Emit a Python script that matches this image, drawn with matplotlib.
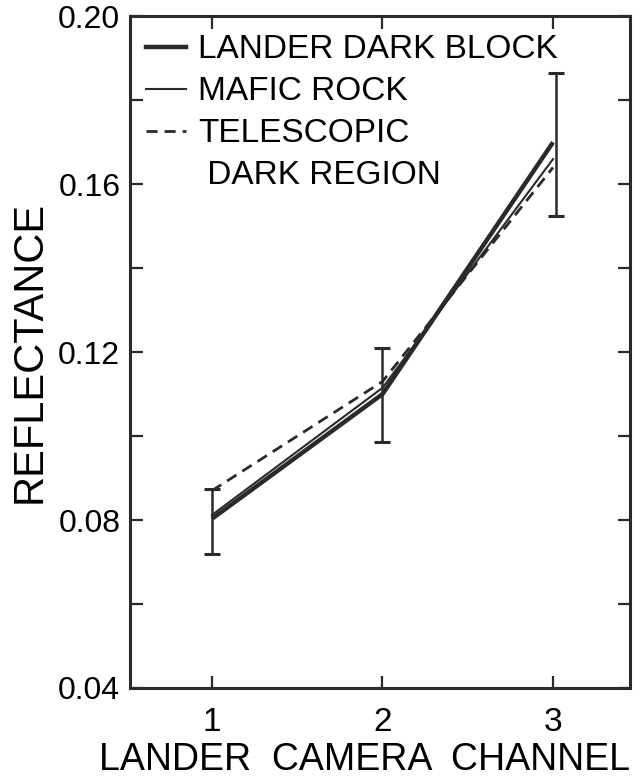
import matplotlib
matplotlib.use('Agg')
import matplotlib.pyplot as plt
from matplotlib.lines import Line2D

plt.rcParams['font.family'] = ['Liberation Sans', 'DejaVu Sans']

# 数据
channels = [1, 2, 3]
lander_dark_block = [0.0803, 0.1100, 0.1700]
mafic_rock = [0.0812, 0.1115, 0.1660]
telescopic_dark = [0.0870, 0.1130, 0.1640]

# 误差棒 (上下界)
err_x = [1.0, 2.0, 3.02]
err_low = [0.0720, 0.0985, 0.1525]
err_high = [0.0875, 0.1210, 0.1865]

fig = plt.figure(figsize=(6.42, 7.78), dpi=100)
ax = fig.add_axes([0.2025, 0.1157, 0.7785, 0.8633])

ax.plot(channels, lander_dark_block, color='#2a2a2a', lw=3.2, solid_capstyle='butt')
ax.plot(channels, mafic_rock, color='#2a2a2a', lw=1.5)
ax.plot(channels, telescopic_dark, color='#2a2a2a', lw=2.0, ls=(0, (4, 2.5)))

mid = [(a + b) / 2 for a, b in zip(err_low, err_high)]
half = [(b - a) / 2 for a, b in zip(err_low, err_high)]
ax.errorbar(err_x, mid, yerr=half, fmt='none', ecolor='#2a2a2a',
            elinewidth=1.8, capsize=6, capthick=2.2)

ax.set_xlim(0.52, 3.45)
ax.set_ylim(0.04, 0.20)
ax.set_xticks(channels)
ax.set_xticklabels(['1', '2', '3'])
ax.set_yticks([0.04, 0.08, 0.12, 0.16, 0.20])
ax.set_yticklabels(['0.04', '0.08', '0.12', '0.16', '0.20'])
ax.set_yticks([0.06, 0.10, 0.14, 0.18], minor=True)

ax.tick_params(axis='both', which='both', direction='in', top=True, right=True,
               width=1.6, color='#2a2a2a')
ax.tick_params(axis='both', which='major', length=9)
ax.tick_params(axis='both', which='minor', length=9)
ax.tick_params(axis='y', labelsize=23, pad=7)
ax.tick_params(axis='x', labelsize=24, pad=14)
for s in ax.spines.values():
    s.set_linewidth(2.2)
    s.set_color('#2a2a2a')

ax.set_xlabel('LANDER  CAMERA  CHANNEL', fontsize=27)
ax.xaxis.set_label_coords(0.47, -0.080, transform=ax.transAxes)
ax.xaxis.label.set_va('top')
ax.set_ylabel('REFLECTANCE', fontsize=30, labelpad=6)

handles = [Line2D([], [], color='#2a2a2a', lw=3.2),
           Line2D([], [], color='#2a2a2a', lw=1.5),
           Line2D([], [], color='#2a2a2a', lw=2.0, ls=(0, (4, 2.5))),
           Line2D([], [], color='none')]
labels = ['LANDER DARK BLOCK', 'MAFIC ROCK', 'TELESCOPIC', ' DARK REGION']
ax.legend(handles, labels, loc='upper left', frameon=False, fontsize=24,
          handlelength=1.2, handletextpad=0.36, labelspacing=0.33,
          borderaxespad=0.0, bbox_to_anchor=(0.006, 0.993))

fig.savefig('out.png', dpi=100)
